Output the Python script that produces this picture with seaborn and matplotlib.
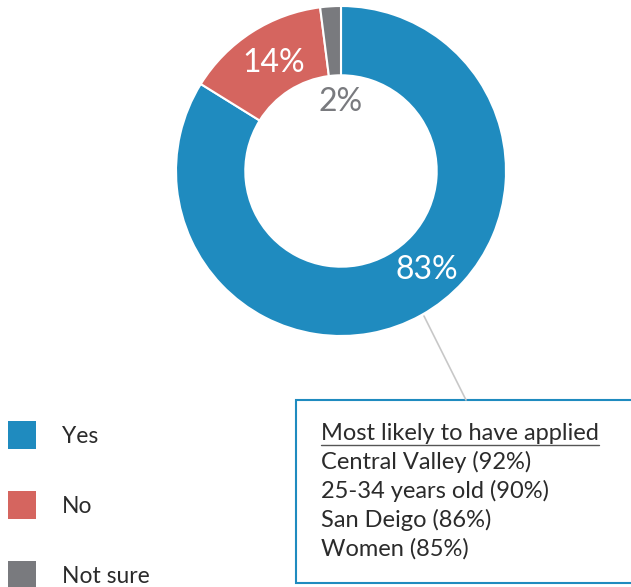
import numpy as np
import matplotlib
matplotlib.use("Agg")
import matplotlib.pyplot as plt
import seaborn as sns
from matplotlib.patches import Rectangle, Patch
from matplotlib.lines import Line2D

categories = ["Yes", "No", "Not sure"]
values = [83, 14, 2]
pct_labels = ["83%", "14%", "2%"]
box_title = "Most likely to have applied"
box_lines = ["Central Valley (92%)", "25-34 years old (90%)", "San Deigo (86%)", "Women (85%)"]

sns.set_theme(style="white")
plt.rcParams['font.family'] = ['Lato', 'DejaVu Sans']

colors = sns.color_palette(["#1f8bbf", "#d5655f", "#797a7e"])
text_color = "#2b2b2b"

W, H = 631, 587
fig = plt.figure(figsize=(W / 100, H / 100), dpi=100)
ax = fig.add_axes([176 / W, (H - 171 - 165) / H, 330 / W, 330 / H])
wedges, _ = ax.pie(values, colors=colors, startangle=90, counterclock=False,
                   radius=1.0, wedgeprops=dict(width=0.42, edgecolor="white", linewidth=1.5))
ax.set_xlim(-1, 1)
ax.set_ylim(-1, 1)
ax.set_aspect("equal")
ax.axis("off")

# percentage labels
ax.text(0.52, -0.60, pct_labels[0], color="white", fontsize=23, ha="center", va="center")
ax.text(-0.41, 0.655, pct_labels[1], color="white", fontsize=23, ha="center", va="center")
ax.text(0.0, 0.42, pct_labels[2], color=colors[2], fontsize=23, ha="center", va="center")

# connector line
p0 = ax.transData.transform((0.503, -0.879))
p0 = fig.transFigure.inverted().transform(p0)
fig.add_artist(Line2D([p0[0], 466 / W], [p0[1], (H - 400) / H], color="#c8c8c8",
                      linewidth=1.2, transform=fig.transFigure))

# annotation box
fig.add_artist(Rectangle((296 / W, (H - 583) / H), (W + 20 - 296) / W, (583 - 400) / H,
                         transform=fig.transFigure, facecolor="white",
                         edgecolor=colors[0], linewidth=1.5, clip_on=False))
x0 = 321 / W
y_title = (H - 433) / H
t = fig.text(x0, y_title, box_title, fontsize=17, color=text_color, ha="left", va="center")
for i, line in enumerate(box_lines):
    fig.text(x0, (H - 433 - 29.0 * (i + 1)) / H, line, fontsize=17, color=text_color,
             ha="left", va="center")
fig.canvas.draw()
bb = t.get_window_extent(renderer=fig.canvas.get_renderer())
uy = (bb.y0 - 1) / H
fig.add_artist(Line2D([bb.x0 / W, bb.x1 / W], [uy, uy], color="#555555", linewidth=1.0,
                      transform=fig.transFigure))

# legend
handles = [Patch(facecolor=c, edgecolor="none") for c in colors]
leg = fig.legend(handles, categories, loc="upper left", bbox_to_anchor=(0.0, (H - 413) / H),
                 frameon=False, fontsize=16.5, handlelength=1.22, handleheight=1.505,
                 handletextpad=1.13, labelspacing=1.83, borderaxespad=0, borderpad=0.35)
for txt in leg.get_texts():
    txt.set_color(text_color)

fig.savefig("out.png", dpi=100, facecolor="white")
